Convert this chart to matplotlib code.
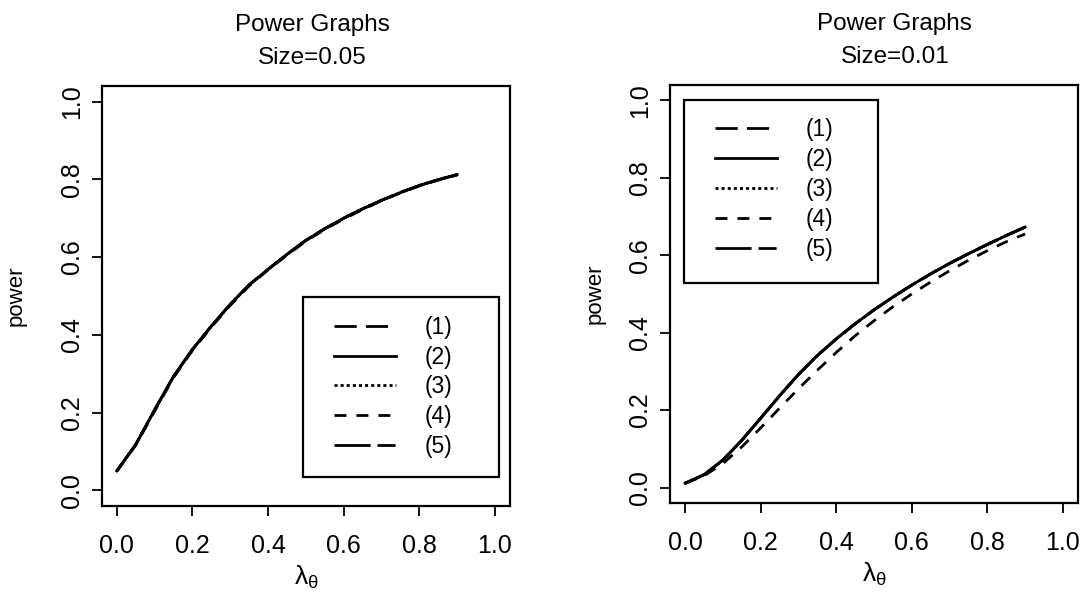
import matplotlib
matplotlib.use("Agg")
import matplotlib.pyplot as plt
from matplotlib.patches import Rectangle

plt.rcParams['font.family'] = ['Liberation Sans', 'DejaVu Sans']
plt.rcParams['mathtext.fontset'] = 'custom'
plt.rcParams['mathtext.rm'] = 'Liberation Sans'
plt.rcParams['mathtext.it'] = 'Liberation Sans'

# lambda_theta grid
lam = [0.0, 0.05, 0.1, 0.15, 0.2, 0.25, 0.3, 0.35, 0.4, 0.45,
       0.5, 0.55, 0.6, 0.65, 0.7, 0.75, 0.8, 0.85, 0.9]

# size = 0.05 : the five curves sit on top of each other
pow05_1 = [0.05, 0.118, 0.207, 0.293, 0.3625, 0.4225, 0.4785, 0.5285, 0.5685, 0.607,
           0.643, 0.673, 0.70, 0.724, 0.746, 0.766, 0.784, 0.799, 0.812]
pow05_2 = [0.05, 0.118, 0.207, 0.293, 0.3625, 0.4225, 0.4785, 0.5285, 0.5685, 0.607,
           0.643, 0.673, 0.70, 0.724, 0.746, 0.766, 0.784, 0.799, 0.812]
pow05_3 = [0.05, 0.118, 0.207, 0.293, 0.3625, 0.4225, 0.4785, 0.5285, 0.5685, 0.607,
           0.643, 0.673, 0.70, 0.724, 0.746, 0.766, 0.784, 0.799, 0.812]
pow05_4 = [0.05, 0.116, 0.204, 0.290, 0.36, 0.42, 0.476, 0.526, 0.567, 0.605,
           0.641, 0.671, 0.698, 0.722, 0.745, 0.765, 0.783, 0.798, 0.811]
pow05_5 = [0.05, 0.118, 0.207, 0.293, 0.3625, 0.4225, 0.4785, 0.5285, 0.5685, 0.607,
           0.643, 0.673, 0.70, 0.724, 0.746, 0.766, 0.784, 0.799, 0.812]

# size = 0.01 : (4) runs a bit lower than the rest
pow01_1 = [0.011, 0.033, 0.071, 0.122, 0.179, 0.237, 0.292, 0.341, 0.384, 0.423,
           0.459, 0.492, 0.523, 0.552, 0.579, 0.604, 0.628, 0.651, 0.673]
pow01_2 = [0.011, 0.033, 0.071, 0.122, 0.179, 0.237, 0.292, 0.341, 0.384, 0.423,
           0.459, 0.492, 0.523, 0.552, 0.579, 0.604, 0.628, 0.651, 0.673]
pow01_3 = [0.011, 0.033, 0.071, 0.122, 0.179, 0.237, 0.292, 0.341, 0.384, 0.423,
           0.459, 0.492, 0.523, 0.552, 0.579, 0.604, 0.628, 0.651, 0.673]
pow01_4 = [0.011, 0.030, 0.062, 0.105, 0.154, 0.205, 0.255, 0.303, 0.349, 0.392,
           0.431, 0.467, 0.500, 0.531, 0.560, 0.587, 0.612, 0.635, 0.655]
pow01_5 = [0.011, 0.033, 0.071, 0.122, 0.179, 0.237, 0.292, 0.341, 0.384, 0.423,
           0.459, 0.492, 0.523, 0.552, 0.579, 0.604, 0.628, 0.651, 0.673]

labels = ["(1)", "(2)", "(3)", "(4)", "(5)"]
ticks = [0.0, 0.2, 0.4, 0.6, 0.8, 1.0]
tick_labels = ["0.0", "0.2", "0.4", "0.6", "0.8", "1.0"]

# R style line types
styles = [(0, (8.0, 3.3)), "-", (0, (1.1, 1.1)), (0, (4.3, 3.6)), (0, (13, 2.5, 6.5, 2.5))]

fig = plt.figure(figsize=(10.91, 6.12), dpi=100)

# axes rect, size text, curves, title x, ylabel x, legend anchor, legend frame
panels = [
    ([0.0932, 0.1732, 0.3743, 0.6863], "Size=0.05",
     [pow05_1, pow05_2, pow05_3, pow05_4, pow05_5], 0.515, -0.185,
     (0.569, 0.453), (0.493, 0.069, 0.48, 0.429)),
    ([0.6141, 0.1781, 0.374, 0.6830], "Size=0.01",
     [pow01_1, pow01_2, pow01_3, pow01_4, pow01_5], 0.551, -0.157,
     (0.110, 0.921), (0.034, 0.526, 0.476, 0.438)),
]

for rect, size_txt, series, title_x, ylab_x, anchor, frame in panels:
    ax = fig.add_axes(rect)
    for ys, ls, lab in zip(series, styles, labels):
        ax.plot(lam, ys, color="black", linestyle=ls, linewidth=2.0, label=lab)

    ax.set_xlim(-0.04, 1.04)
    ax.set_ylim(-0.04, 1.04)
    ax.set_xticks(ticks)
    ax.set_xticklabels(tick_labels, fontsize=18)
    ax.set_yticks(ticks)
    ax.set_yticklabels(tick_labels, fontsize=18, rotation=90, va="center")
    ax.tick_params(direction="out", length=7, width=1.3, pad=13, color="black")
    ax.tick_params(axis="y", pad=6)
    for sp in ax.spines.values():
        sp.set_linewidth(1.6)

    ax.set_xlabel(r"$\lambda_\theta$", fontsize=19)
    ax.xaxis.set_label_coords(0.5, -0.138)
    ax.set_ylabel("power", fontsize=16)
    ax.yaxis.set_label_coords(ylab_x, 0.5)
    ax.text(title_x, 1.146, "Power Graphs", transform=ax.transAxes,
            ha="center", va="center", fontsize=17.5)
    ax.text(title_x, 1.067, size_txt, transform=ax.transAxes,
            ha="center", va="center", fontsize=17.5)

    ax.legend(loc="upper left", bbox_to_anchor=anchor, fontsize=16.5,
              handlelength=2.7, handletextpad=1.25, labelspacing=0.3,
              borderpad=0, borderaxespad=0, frameon=False)
    ax.add_patch(Rectangle((frame[0], frame[1]), frame[2], frame[3],
                           transform=ax.transAxes, fill=False,
                           edgecolor="black", linewidth=1.6, zorder=5))

fig.savefig("out.png", dpi=100)
